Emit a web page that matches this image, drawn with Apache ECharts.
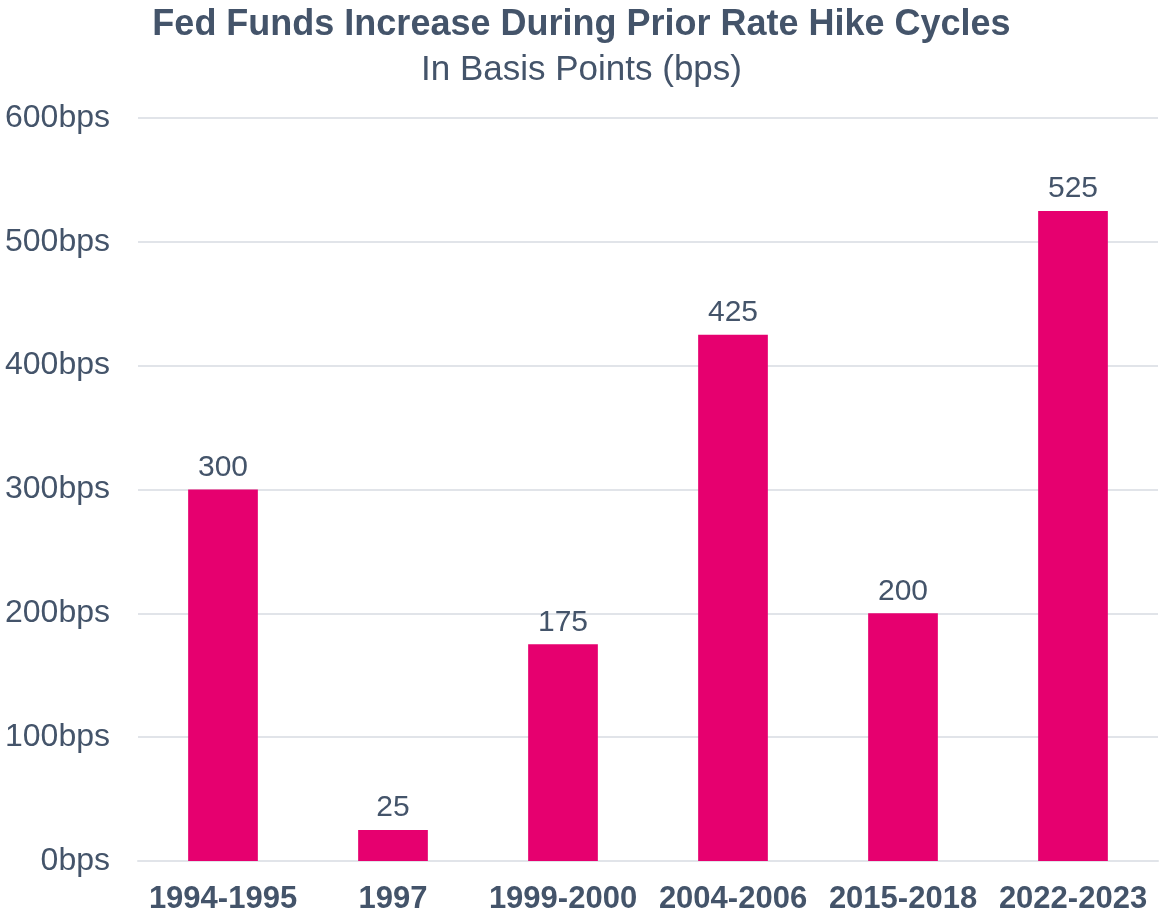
<!DOCTYPE html>
<html>
<head>
<meta charset="utf-8">
<title>Fed Funds Increase During Prior Rate Hike Cycles</title>
<script src="https://cdn.jsdelivr.net/npm/echarts@6/dist/echarts.min.js"></script>
<style>
  html, body { margin: 0; padding: 0; background: #fff; }
  #chart { width: 1163px; height: 920px; }
</style>
</head>
<body>
<div id="chart"></div>
<script>
var cycles = ['1994-1995', '1997', '1999-2000', '2004-2006', '2015-2018', '2022-2023'];
var hikeBps = [300, 25, 175, 425, 200, 525];
var yTicks = [0, 100, 200, 300, 400, 500, 600];

var textColor = '#44546a';
var fontName = '"Liberation Sans", Arial, sans-serif';

var chart = echarts.init(document.getElementById('chart'));
var option = {
	backgroundColor: '#fff',
	title: {
		text: 'Fed Funds Increase During Prior Rate Hike Cycles',
		subtext: 'In Basis Points (bps)',
		left: 'center',
		top: 2,
		itemGap: 10,
		textStyle: { color: textColor, fontFamily: fontName, fontSize: 36, fontWeight: 'bold' },
		subtextStyle: { color: textColor, fontFamily: fontName, fontSize: 35 }
	},
	grid: { left: 138, right: 5, top: 118, bottom: 59 },
	xAxis: {
		type: 'category',
		data: cycles,
		axisLine: { show: true, lineStyle: { color: '#e1e4e9', width: 2 } },
		axisTick: { show: false },
		axisLabel: { color: textColor, fontFamily: fontName, fontSize: 31, fontWeight: 'bold', margin: 23, interval: 0 }
	},
	yAxis: {
		type: 'value',
		min: yTicks[0],
		max: yTicks[yTicks.length - 1],
		interval: 100,
		axisLine: { show: false },
		axisTick: { show: false },
		splitLine: { lineStyle: { color: '#e1e4e9', width: 2 } },
		axisLabel: {
			color: textColor, fontFamily: fontName, fontSize: 32, margin: 28,
			formatter: function (v) { return v + 'bps'; }
		}
	},
	series: [{
		type: 'bar',
		data: hikeBps,
		barWidth: '41%',
		itemStyle: { color: '#e6006f' },
		label: { show: true, position: 'top', distance: 7, color: textColor, fontFamily: fontName, fontSize: 30 }
	}]
};
chart.setOption(option);
</script>
</body>
</html>
